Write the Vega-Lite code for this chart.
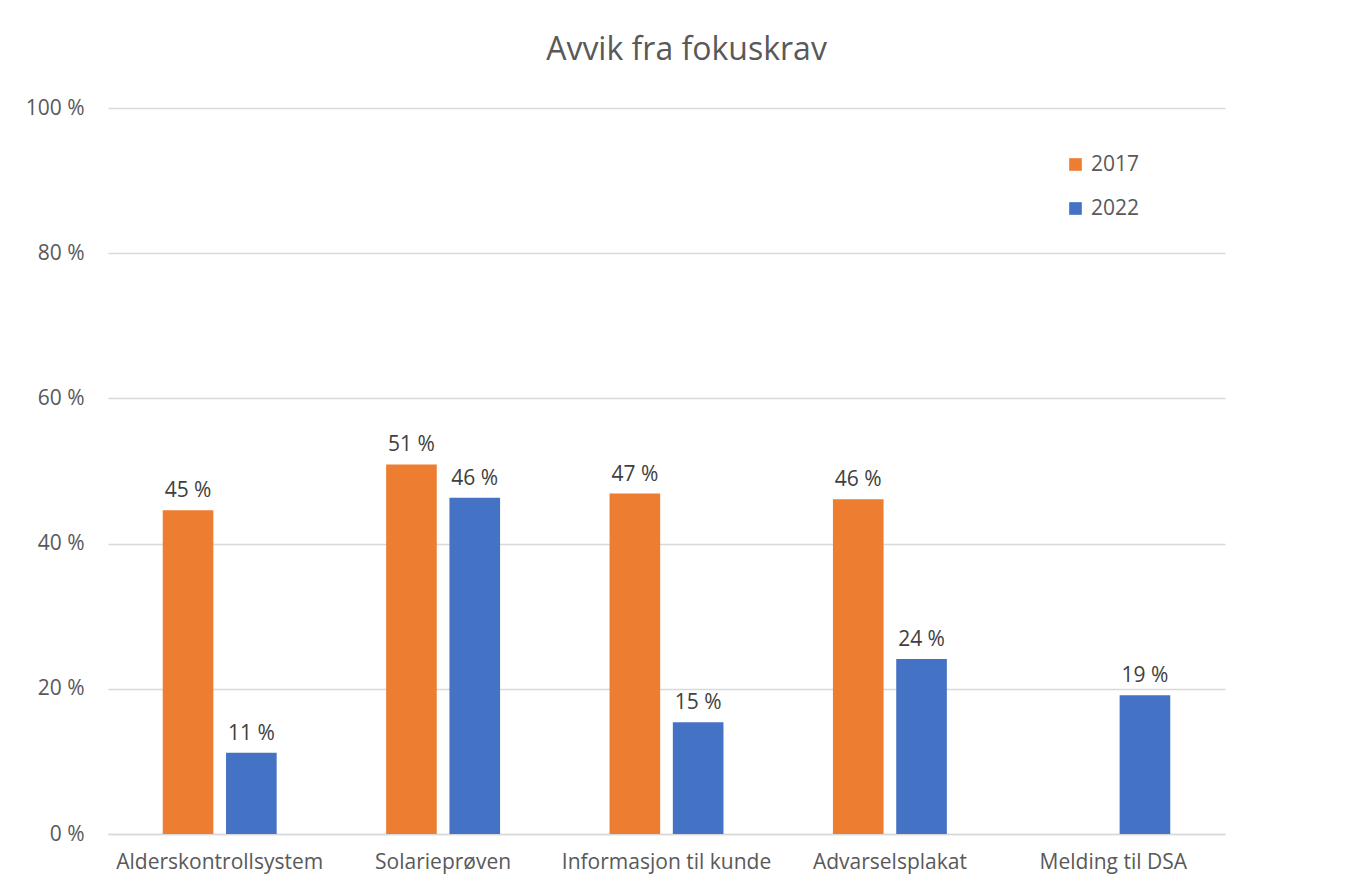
{
  "$schema": "https://vega.github.io/schema/vega-lite/v6.json",
  "width": 1117,
  "height": 726,
  "autosize": {"type": "none"},
  "padding": {"left": 108, "top": 108, "right": 138, "bottom": 56},
  "background": "white",
  "config": {
    "font": "Open Sans",
    "view": {"stroke": null},
    "locale": {
      "number": {"decimal": ",", "thousands": " ", "grouping": [3], "currency": ["", " kr"], "percent": " %"}
    }
  },
  "title": {
    "text": "Avvik fra fokuskrav",
    "fontSize": 32,
    "fontWeight": "normal",
    "color": "#595959",
    "font": "Open Sans",
    "anchor": "middle",
    "dx": 20,
    "offset": 30
  },
  "data": {
    "values": [
      {"kategori": "Alderskontrollsystem", "aar": "2017", "andel": 0.446},
      {"kategori": "Alderskontrollsystem", "aar": "2022", "andel": 0.112},
      {"kategori": "Solarieprøven", "aar": "2017", "andel": 0.509},
      {"kategori": "Solarieprøven", "aar": "2022", "andel": 0.463},
      {"kategori": "Informasjon til kunde", "aar": "2017", "andel": 0.469},
      {"kategori": "Informasjon til kunde", "aar": "2022", "andel": 0.154},
      {"kategori": "Advarselsplakat", "aar": "2017", "andel": 0.461},
      {"kategori": "Advarselsplakat", "aar": "2022", "andel": 0.241},
      {"kategori": "Melding til DSA", "aar": "2022", "andel": 0.191}
    ]
  },
  "encoding": {
    "x": {
      "field": "kategori",
      "type": "nominal",
      "sort": null,
      "scale": {"paddingInner": 0.49, "paddingOuter": 0.245},
      "axis": {
        "title": null,
        "labelAngle": 0,
        "labelFontSize": 21,
        "labelLimit": 400,
        "labelColor": "#595959",
        "labelPadding": 17,
        "ticks": false,
        "domainColor": "#d9d9d9",
        "domainWidth": 1.5
      }
    },
    "xOffset": {
      "field": "aar",
      "type": "nominal",
      "scale": {"paddingInner": 0.2, "paddingOuter": 0}
    },
    "y": {
      "field": "andel",
      "type": "quantitative",
      "scale": {"domain": [0, 1], "nice": false},
      "axis": {
        "title": null,
        "format": ".0%",
        "values": [0, 0.2, 0.4, 0.6, 0.8, 1],
        "labelFontSize": 21,
        "labelColor": "#595959",
        "labelPadding": 24,
        "ticks": false,
        "domain": false,
        "gridColor": "#d9d9d9",
        "gridWidth": 1.5
      }
    }
  },
  "layer": [
    {
      "mark": {"type": "bar"},
      "encoding": {
        "color": {
          "field": "aar",
          "type": "nominal",
          "scale": {"domain": ["2017", "2022"], "range": ["#ed7d31", "#4472c4"]},
          "legend": {
            "title": null,
            "orient": "none",
            "legendX": 957,
            "legendY": 46,
            "symbolType": "square",
            "symbolSize": 160,
            "symbolStrokeWidth": 0,
            "labelFontSize": 21,
            "labelColor": "#595959",
            "labelOffset": 5,
            "rowPadding": 22
          }
        }
      }
    },
    {
      "mark": {"type": "text", "baseline": "bottom", "dy": -9, "fontSize": 21, "color": "#404040"},
      "encoding": {
        "text": {"field": "andel", "type": "quantitative", "format": ".0%"}
      }
    }
  ]
}
